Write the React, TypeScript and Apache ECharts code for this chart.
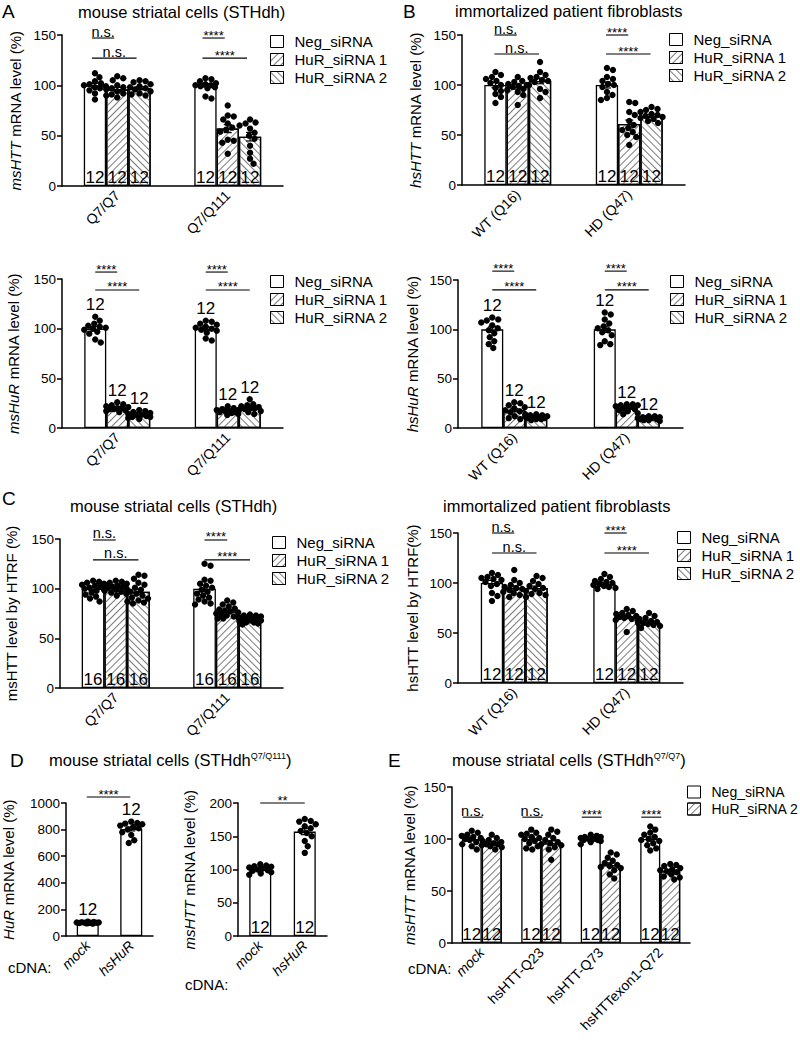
import React, { useEffect, useRef } from "react";
import * as echarts from "echarts";

const FONT = "'Liberation Sans', Arial, Helvetica, sans-serif";

// ---------------- data ----------------
const siRNA3 = ["Neg_siRNA", "HuR_siRNA 1", "HuR_siRNA 2"];
const siRNA2 = ["Neg_siRNA", "HuR_siRNA 2"];
const mouseCells = ["Q7/Q7", "Q7/Q111"];
const patientCells = ["WT (Q16)", "HD (Q47)"];
const cdnaHuR = ["mock", "hsHuR"];
const cdnaHTT = ["mock", "hsHTT-Q23", "hsHTT-Q73", "hsHTTexon1-Q72"];

const ticksPct150 = [0, 50, 100, 150];
const ticksHuR1000 = [0, 200, 400, 600, 800, 1000];
const ticksPct200 = [0, 50, 100, 150, 200];

// A (top): msHTT mRNA, mouse striatal cells — [group][cell line]
const msHTTMean = [[100, 100], [96, 57], [97, 49]];
const msHTTDots = [
  [[112, 108, 104, 102, 101, 100, 99, 98, 97, 95, 92, 86], [107, 106, 104, 102, 101, 100, 100, 99, 98, 97, 89, 87]],
  [[109, 107, 105, 100, 98, 97, 96, 94, 92, 91, 90, 88], [80, 70, 69, 66, 62, 58, 56, 54, 46, 45, 43, 32]],
  [[105, 104, 103, 101, 99, 98, 97, 96, 94, 92, 91, 90], [66, 63, 62, 60, 57, 53, 50, 47, 40, 33, 27, 22]],
];
const msHTTN = [[12, 12], [12, 12], [12, 12]];
const msHTTSig = [
  { t: "n.s.", a: [0, 0], b: [0, 1], y: 147 },
  { t: "n.s.", a: [0, 0], b: [0, 2], y: 127 },
  { t: "****", a: [1, 0], b: [1, 1], y: 147 },
  { t: "****", a: [1, 0], b: [1, 2], y: 127 },
];

// B (top): hsHTT mRNA, patient fibroblasts
const hsHTTMean = [[100, 100], [98, 61], [104, 69]];
const hsHTTDots = [
  [[113, 110, 108, 106, 104, 102, 100, 97, 94, 91, 88, 82], [117, 115, 108, 106, 104, 101, 100, 98, 93, 90, 87, 85]],
  [[108, 104, 103, 101, 100, 99, 98, 96, 95, 93, 90, 80], [83, 82, 73, 70, 64, 60, 57, 55, 53, 50, 48, 40]],
  [[123, 113, 110, 108, 107, 105, 104, 103, 100, 96, 93, 87], [78, 76, 75, 73, 71, 70, 69, 68, 67, 66, 64, 62]],
];
const hsHTTN = [[12, 12], [12, 12], [12, 12]];
const hsHTTSig = [
  { t: "n.s.", a: [0, 0], b: [0, 1], y: 150 },
  { t: "n.s.", a: [0, 0], b: [0, 2], y: 131 },
  { t: "****", a: [1, 0], b: [1, 1], y: 150 },
  { t: "****", a: [1, 0], b: [1, 2], y: 131 },
];

// A (bottom): msHuR mRNA
const msHuRMean = [[100, 100], [20, 17], [13, 20]];
const msHuRDots = [
  [[112, 108, 105, 103, 102, 101, 100, 99, 97, 95, 89, 86], [108, 107, 105, 104, 102, 101, 100, 99, 98, 96, 90, 88]],
  [[26, 24, 23, 22, 21, 20, 20, 19, 19, 18, 17, 16], [22, 20, 19, 18, 18, 17, 17, 16, 16, 15, 14, 13]],
  [[18, 17, 16, 15, 14, 13, 13, 12, 11, 11, 10, 9], [29, 24, 23, 22, 21, 20, 20, 19, 18, 17, 16, 14]],
];
const msHuRN = [[12, 12], [12, 12], [12, 12]];
const msHuRSig = [
  { t: "****", a: [0, 0], b: [0, 1], y: 157 },
  { t: "****", a: [0, 0], b: [0, 2], y: 139 },
  { t: "****", a: [1, 0], b: [1, 1], y: 157 },
  { t: "****", a: [1, 0], b: [1, 2], y: 139 },
];

// B (bottom): hsHuR mRNA
const hsHuRMean = [[100, 100], [18, 20], [11, 10]];
const hsHuRDots = [
  [[112, 110, 109, 107, 104, 101, 99, 96, 92, 88, 85, 81], [117, 115, 110, 106, 103, 101, 99, 97, 94, 88, 85, 84]],
  [[26, 25, 23, 21, 20, 18, 17, 16, 14, 12, 10, 9], [24, 24, 23, 23, 22, 21, 20, 19, 18, 17, 15, 14]],
  [[14, 13, 13, 12, 12, 11, 11, 10, 10, 9, 9, 8], [12, 12, 11, 11, 10, 10, 10, 9, 9, 8, 8, 7]],
];
const hsHuRN = [[12, 12], [12, 12], [12, 12]];
const hsHuRSig = [
  { t: "****", a: [0, 0], b: [0, 1], y: 159 },
  { t: "****", a: [0, 0], b: [0, 2], y: 140 },
  { t: "****", a: [1, 0], b: [1, 1], y: 159 },
  { t: "****", a: [1, 0], b: [1, 2], y: 140 },
];

// C (left): msHTT protein by HTRF
const msHTRFMean = [[100, 100], [101, 77], [97, 69]];
const msHTRFDots = [
  [[108, 107, 106, 105, 104, 103, 102, 101, 100, 99, 98, 96, 94, 92, 90, 87], [125, 123, 109, 108, 105, 103, 101, 99, 97, 95, 93, 91, 89, 87, 85, 84]],
  [[108, 107, 106, 105, 104, 103, 102, 102, 101, 100, 99, 98, 97, 96, 95, 93], [88, 86, 84, 82, 80, 79, 78, 77, 76, 75, 74, 73, 72, 71, 70, 70]],
  [[114, 113, 110, 106, 104, 101, 99, 97, 95, 93, 91, 90, 88, 87, 86, 85], [74, 73, 73, 72, 71, 70, 70, 69, 69, 68, 68, 67, 66, 66, 65, 64]],
];
const msHTRFN = [[16, 16], [16, 16], [16, 16]];
const msHTRFSig = [
  { t: "n.s.", a: [0, 0], b: [0, 1], y: 149 },
  { t: "n.s.", a: [0, 0], b: [0, 2], y: 129 },
  { t: "****", a: [1, 0], b: [1, 1], y: 149 },
  { t: "****", a: [1, 0], b: [1, 2], y: 129 },
];

// C (right): hsHTT protein by HTRF
const hsHTRFMean = [[100, 99], [95, 66], [95, 61]];
const hsHTRFDots = [
  [[110, 108, 106, 105, 104, 103, 101, 99, 97, 90, 87, 82], [109, 106, 104, 102, 101, 100, 99, 98, 97, 96, 95, 94]],
  [[113, 103, 100, 98, 96, 95, 94, 93, 91, 90, 88, 86], [74, 72, 70, 69, 68, 67, 66, 65, 64, 63, 62, 51]],
  [[107, 105, 102, 99, 97, 95, 94, 92, 90, 89, 88, 86], [70, 67, 65, 64, 62, 61, 60, 60, 59, 58, 57, 55]],
];
const hsHTRFN = [[12, 12], [12, 12], [12, 12]];
const hsHTRFSig = [
  { t: "n.s.", a: [0, 0], b: [0, 1], y: 150 },
  { t: "n.s.", a: [0, 0], b: [0, 2], y: 130 },
  { t: "****", a: [1, 0], b: [1, 1], y: 150 },
  { t: "****", a: [1, 0], b: [1, 2], y: 130 },
];

// D (left): HuR mRNA after cDNA overexpression
const huROEMean = [[100, 805]];
const huROEDots = [[[108, 106, 104, 102, 101, 100, 100, 99, 98, 97, 95, 93], [860, 850, 845, 840, 830, 820, 810, 800, 780, 760, 720, 700]]];
const huROEN = [[12, 12]];
const huROESig = [{ t: "****", a: [0, 0], b: [1, 0], y: 1045 }];

// D (middle): msHTT mRNA after HuR overexpression
const msHTTOEMean = [[100, 157]];
const msHTTOEDots = [[[108, 106, 105, 104, 103, 101, 100, 99, 98, 96, 94, 92], [176, 173, 172, 168, 165, 162, 158, 155, 150, 143, 135, 125]]];
const msHTTOEN = [[12, 12]];
const msHTTOESig = [{ t: "**", a: [0, 0], b: [1, 0], y: 200 }];

// E: msHTT mRNA with hsHTT cDNAs
const eMean = [[100, 100, 100, 100], [96, 96, 75, 69]];
const eDots = [
  [
    [108, 106, 104, 103, 102, 101, 100, 99, 97, 95, 93, 90],
    [109, 106, 105, 104, 102, 101, 100, 98, 96, 93, 91, 90],
    [104, 103, 102, 102, 101, 100, 100, 99, 99, 98, 97, 95],
    [112, 109, 106, 104, 102, 100, 99, 98, 96, 94, 91, 89],
  ],
  [
    [104, 101, 99, 98, 97, 96, 95, 95, 94, 93, 92, 90],
    [109, 107, 104, 101, 99, 97, 96, 95, 94, 92, 90, 80],
    [87, 85, 82, 79, 77, 75, 74, 73, 72, 70, 66, 62],
    [76, 75, 74, 72, 71, 70, 69, 68, 66, 64, 63, 61],
  ],
];
const eN = [[12, 12, 12, 12], [12, 12, 12, 12]];
const eSig = [
  { t: "n.s.", a: [0, 0], b: [0, 1], y: 121 },
  { t: "n.s.", a: [1, 0], b: [1, 1], y: 121 },
  { t: "****", a: [2, 0], b: [2, 1], y: 121 },
  { t: "****", a: [3, 0], b: [3, 1], y: 121 },
];

// ---------------- layout ----------------
type Panel = {
  grid: { left: number; top: number; width: number; height: number };
  cats: string[];
  italicCats: string[];
  groups: string[];
  hatch: number[];
  means: number[][];
  dots: number[][][];
  n: number[][];
  nPos: "inside" | "above";
  ticks: number[];
  yName: string;
  nameGap: number;
  barWidth: number;
  sig: { t: string; a: number[]; b: number[]; y: number }[];
  sigShift: number;
  legend?: { left: number; top: number; gap: number; font: number };
};

const panels: Panel[] = [
  {
    grid: { left: 62, top: 35, width: 221, height: 151 }, cats: mouseCells, italicCats: [], groups: siRNA3, hatch: [0, 1, 2],
    means: msHTTMean, dots: msHTTDots, n: msHTTN, nPos: "inside", ticks: ticksPct150, yName: "{i|msHTT} mRNA level (%)", nameGap: 39,
    barWidth: 22.3, sig: msHTTSig, sigShift: -3, legend: { left: 270, top: 34, gap: 3, font: 15 },
  },
  {
    grid: { left: 462, top: 35, width: 223, height: 150 }, cats: patientCells, italicCats: [], groups: siRNA3, hatch: [0, 1, 2],
    means: hsHTTMean, dots: hsHTTDots, n: hsHTTN, nPos: "inside", ticks: ticksPct150, yName: "{i|hsHTT} mRNA level (%)", nameGap: 39,
    barWidth: 22.3, sig: hsHTTSig, sigShift: -1, legend: { left: 669, top: 32, gap: 3, font: 15 },
  },
  {
    grid: { left: 62, top: 279, width: 221, height: 149 }, cats: mouseCells, italicCats: [], groups: siRNA3, hatch: [0, 1, 2],
    means: msHuRMean, dots: msHuRDots, n: msHuRN, nPos: "above", ticks: ticksPct150, yName: "{i|msHuR} mRNA level (%)", nameGap: 41,
    barWidth: 22, sig: msHuRSig, sigShift: 0, legend: { left: 270, top: 274, gap: 3, font: 15 },
  },
  {
    grid: { left: 458, top: 280, width: 225, height: 148 }, cats: patientCells, italicCats: [], groups: siRNA3, hatch: [0, 1, 2],
    means: hsHuRMean, dots: hsHuRDots, n: hsHuRN, nPos: "above", ticks: ticksPct150, yName: "{i|hsHuR} mRNA level (%)", nameGap: 38,
    barWidth: 22, sig: hsHuRSig, sigShift: 0, legend: { left: 670, top: 274, gap: 3, font: 15 },
  },
  {
    grid: { left: 60, top: 539, width: 223, height: 149 }, cats: mouseCells, italicCats: [], groups: siRNA3, hatch: [0, 1, 2],
    means: msHTRFMean, dots: msHTRFDots, n: msHTRFN, nPos: "inside", ticks: ticksPct150, yName: "msHTT level by HTRF (%)", nameGap: 41,
    barWidth: 22.7, sig: msHTRFSig, sigShift: 0, legend: { left: 272, top: 535, gap: 3, font: 15 },
  },
  {
    grid: { left: 458, top: 533, width: 225, height: 150 }, cats: patientCells, italicCats: [], groups: siRNA3, hatch: [0, 1, 2],
    means: hsHTRFMean, dots: hsHTRFDots, n: hsHTRFN, nPos: "inside", ticks: ticksPct150, yName: "hsHTT level by HTRF(%)", nameGap: 38,
    barWidth: 22.3, sig: hsHTRFSig, sigShift: 0, legend: { left: 677, top: 530, gap: 3, font: 15 },
  },
  {
    grid: { left: 62, top: 803, width: 91, height: 133 }, cats: cdnaHuR, italicCats: cdnaHuR, groups: ["HuR cDNA"], hatch: [0],
    means: huROEMean, dots: huROEDots, n: huROEN, nPos: "above", ticks: ticksHuR1000, yName: "{i|HuR} mRNA level (%)", nameGap: 50,
    barWidth: 22, sig: huROESig, sigShift: -1,
  },
  {
    grid: { left: 238, top: 803, width: 89, height: 133 }, cats: cdnaHuR, italicCats: cdnaHuR, groups: ["msHTT cDNA"], hatch: [0],
    means: msHTTOEMean, dots: msHTTOEDots, n: msHTTOEN, nPos: "inside", ticks: ticksPct200, yName: "{i|msHTT} mRNA level (%)", nameGap: 41,
    barWidth: 22, sig: msHTTOESig, sigShift: 0,
  },
  {
    grid: { left: 452, top: 787, width: 238, height: 156 }, cats: cdnaHTT, italicCats: ["mock"], groups: siRNA2, hatch: [0, 1],
    means: eMean, dots: eDots, n: eN, nPos: "inside", ticks: ticksPct150, yName: "{i|msHTT} mRNA level (%)", nameGap: 35,
    barWidth: 20, sig: eSig, sigShift: -9, legend: { left: 687, top: 785, gap: 3, font: 14 },
  },
];

const DOT_R = 3.2;

function hatchDecal(kind: number): any {
  if (!kind) return undefined;
  return {
    symbol: "rect",
    symbolSize: 1,
    color: "#7a7a7a",
    backgroundColor: "#ffffff",
    dashArrayX: [1, 0],
    dashArrayY: [1, 3.5],
    rotation: kind === 1 ? -Math.PI / 4 : Math.PI / 4,
  };
}

function swarm(ys: number[], r: number, maxOff: number): number[] {
  const order = ys.map((_, i) => i).sort((a, b) => ys[a] - ys[b]);
  const xs = new Array(ys.length).fill(0);
  const placed: number[] = [];
  const d = 2 * r * 0.92;
  const cands: number[] = [0];
  for (let k = 0.5; k <= maxOff; k += 0.5) cands.push(k, -k);
  for (const i of order) {
    let best = 0;
    let bestScore = -Infinity;
    for (const cx of cands) {
      let minD = Infinity;
      for (const j of placed) {
        const dd = Math.hypot(cx - xs[j], ys[i] - ys[j]);
        if (dd < minD) minD = dd;
      }
      if (minD >= d) { best = cx; bestScore = Infinity; break; }
      if (minD > bestScore) { bestScore = minD; best = cx; }
    }
    xs[i] = best;
    placed.push(i);
  }
  return xs;
}

function sem(vals: number[]): number {
  const m = vals.reduce((s, v) => s + v, 0) / vals.length;
  const v = vals.reduce((s, x) => s + (x - m) * (x - m), 0) / (vals.length - 1);
  return Math.sqrt(v) / Math.sqrt(vals.length);
}

function buildOption(): any {
  const grid: any[] = [];
  const xAxis: any[] = [];
  const yAxis: any[] = [];
  const series: any[] = [];
  const legend: any[] = [];
  const axisLineStyle = { color: "#000", width: 1.5 };

  panels.forEach((p, i) => {
    grid.push({ ...p.grid, containLabel: false });
    xAxis.push({
      gridIndex: i,
      type: "category",
      data: p.cats,
      axisLine: { lineStyle: axisLineStyle },
      axisTick: { alignWithLabel: true, length: 5, lineStyle: axisLineStyle },
      axisLabel: {
        rotate: 45,
        interval: 0,
        margin: 7,
        color: "#000",
        fontSize: 14,
        fontFamily: FONT,
        formatter: (v: string) => (p.italicCats.includes(v) ? `{i|${v}}` : v),
        rich: { i: { fontStyle: "italic", fontSize: 14, fontFamily: FONT, color: "#000" } },
      },
    });
    const tk = p.ticks;
    yAxis.push({
      gridIndex: i,
      type: "value",
      min: tk[0],
      max: tk[tk.length - 1],
      interval: tk[1] - tk[0],
      axisLine: { show: true, lineStyle: axisLineStyle },
      axisTick: { show: true, length: 5, lineStyle: axisLineStyle },
      splitLine: { show: false },
      axisLabel: { color: "#000", fontSize: 13.5, fontFamily: FONT, margin: 6, formatter: (v: number) => String(v) },
      name: p.yName,
      nameLocation: "middle",
      nameGap: p.nameGap,
      nameRotate: 90,
      nameTextStyle: {
        color: "#000",
        fontSize: 15,
        fontFamily: FONT,
        rich: { i: { fontStyle: "italic", fontSize: 15, fontFamily: FONT, color: "#000" } },
      },
    });

    p.groups.forEach((g, gi) => {
      series.push({
        type: "bar",
        name: g,
        xAxisIndex: i,
        yAxisIndex: i,
        data: p.means[gi],
        barWidth: p.barWidth,
        barGap: "0%",
        silent: true,
        z: 2,
        itemStyle: { color: "#fff", borderColor: "#000", borderWidth: 1.3, decal: hatchDecal(p.hatch[gi]) },
        label:
          p.nPos === "inside"
            ? {
                show: true,
                position: "insideBottom",
                distance: 0,
                formatter: (prm: any) => String(p.n[gi][prm.dataIndex]),
                fontSize: 17,
                fontFamily: FONT,
                color: "#000",
              }
            : { show: false },
      });
    });

    const items: any[] = [];
    p.groups.forEach((_, gi) => p.cats.forEach((__, ci) => items.push({ kind: "dots", cat: ci, g: gi, val: p.means[gi][ci] })));
    p.sig.forEach((s) => items.push({ kind: "sig", cat: s.a[0], val: s.y, s }));
    const G = p.groups.length;
    const bx = (api: any, cat: number, g: number) => api.coord([cat, 0])[0] + (g - (G - 1) / 2) * p.barWidth;

    series.push({
      type: "custom",
      xAxisIndex: i,
      yAxisIndex: i,
      z: 4,
      silent: true,
      clip: false,
      data: items.map((it) => [it.cat, it.val]),
      encode: { x: 0, y: 1 },
      renderItem: (params: any, api: any) => {
        const it = items[params.dataIndex];
        const children: any[] = [];
        if (it.kind === "dots") {
          const cx = bx(api, it.cat, it.g);
          const vals: number[] = p.dots[it.g][it.cat];
          const ys = vals.map((v) => api.coord([it.cat, v])[1]);
          const xs = swarm(ys, DOT_R, p.barWidth / 2);
          const m = p.means[it.g][it.cat];
          const e = sem(vals);
          const yTop = api.coord([it.cat, m + e])[1];
          const yBot = api.coord([it.cat, m - e])[1];
          const ls = { stroke: "#000", lineWidth: 1.2 };
          children.push({ type: "line", shape: { x1: cx, y1: yTop, x2: cx, y2: yBot }, style: ls });
          children.push({ type: "line", shape: { x1: cx - 4, y1: yTop, x2: cx + 4, y2: yTop }, style: ls });
          children.push({ type: "line", shape: { x1: cx - 4, y1: yBot, x2: cx + 4, y2: yBot }, style: ls });
          ys.forEach((y, k) => {
            children.push({ type: "circle", shape: { cx: cx + xs[k], cy: y, r: DOT_R }, style: { fill: "#000" } });
          });
          if (p.nPos === "above") {
            const minY = Math.min(...ys);
            children.push({
              type: "text",
              style: {
                text: String(p.n[it.g][it.cat]),
                x: cx,
                y: minY - 12,
                align: "center",
                verticalAlign: "middle",
                font: `17px ${FONT}`,
                fill: "#000",
              },
            });
          }
        } else {
          const s = it.s;
          const x1 = bx(api, s.a[0], s.a[1]) + p.sigShift;
          const x2 = bx(api, s.b[0], s.b[1]) + p.sigShift;
          const y = api.coord([s.a[0], s.y])[1];
          children.push({ type: "line", shape: { x1, y1: y, x2, y2: y }, style: { stroke: "#000", lineWidth: 1.1 } });
          const star = s.t.startsWith("*");
          children.push({
            type: "text",
            style: {
              text: s.t,
              x: (x1 + x2) / 2,
              y: star ? y - 3 : y - 6.5,
              align: "center",
              verticalAlign: "middle",
              font: star ? `13px ${FONT}` : `14.5px ${FONT}`,
              fill: "#000",
            },
          });
        }
        return { type: "group", children };
      },
    });

    if (p.legend) {
      legend.push({
        orient: "vertical",
        left: p.legend.left,
        top: p.legend.top,
        itemWidth: 13,
        itemHeight: 12,
        itemGap: p.legend.gap,
        icon: "rect",
        selectedMode: false,
        padding: 0,
        itemStyle: { borderColor: "#000", borderWidth: 1 },
        textStyle: { fontSize: p.legend.font, fontFamily: FONT, color: "#000", padding: [0, 0, 0, 6] },
        data: p.groups.map((g, gi) => ({ name: g, itemStyle: { color: "#fff", borderColor: "#000", borderWidth: 1, decal: hatchDecal(p.hatch[gi]) } })),
      });
    }
  });

  const txt = (text: string, x: number, y: number, size: number, extra: any = {}) => ({
    type: "text",
    x,
    y,
    silent: true,
    style: { text, font: `${size}px ${FONT}`, fill: "#000", align: "left", verticalAlign: "middle", ...extra },
  });
  const supRich = { rich: { s: { fontSize: 9, fontFamily: FONT, verticalAlign: "top", fill: "#000" } } };

  const graphic = [
    txt("A", 2, 11, 19),
    txt("mouse striatal cells (STHdh)", 78, 12, 16.5),
    txt("B", 403, 11, 19),
    txt("immortalized patient fibroblasts", 455, 11, 16.5),
    txt("C", 2, 498, 19),
    txt("mouse striatal cells (STHdh)", 70, 506, 16.5),
    txt("immortalized patient fibroblasts", 443, 506, 16.5),
    txt("D", 10, 760, 19),
    txt("mouse striatal cells (STHdh{s|Q7/Q111})", 49, 760, 16.5, supRich),
    txt("E", 388, 760, 19),
    txt("mouse striatal cells (STHdh{s|Q7/Q7})", 452, 760, 16.5, supRich),
    txt("cDNA:", 8, 967, 15),
    txt("cDNA:", 185, 984, 15),
    txt("cDNA:", 408, 968, 15),
  ];

  return {
    animation: false,
    backgroundColor: "#fff",
    grid,
    xAxis,
    yAxis,
    series,
    legend,
    graphic,
  };
}

export default function App() {
  const ref = useRef<HTMLDivElement>(null);
  useEffect(() => {
    document.body.style.margin = "0";
    const chart = echarts.init(ref.current as HTMLDivElement, null, { renderer: "svg", width: 800, height: 1044 });
    chart.setOption(buildOption());
    return () => chart.dispose();
  }, []);
  return <div ref={ref} style={{ width: 800, height: 1044, background: "#fff" }} />;
}
